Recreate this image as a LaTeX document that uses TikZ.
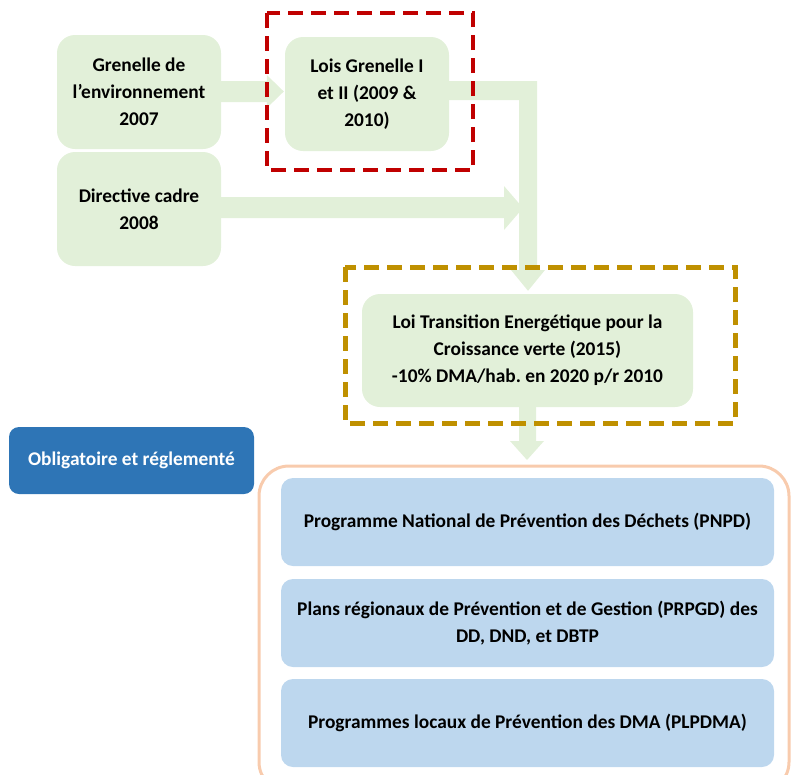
\documentclass[tikz,border=0pt]{standalone}
\usepackage{fontspec}
\setmainfont{Carlito}
\usetikzlibrary{calc}
\definecolor{greenfill}{HTML}{E2F0D9}
\definecolor{bluefill}{HTML}{BDD7EE}
\definecolor{darkblue}{HTML}{2E75B6}
\definecolor{orangeline}{HTML}{F8CBAD}
\definecolor{redline}{HTML}{C00000}
\definecolor{goldline}{HTML}{BF9000}
\pgfdeclarelayer{bg}
\pgfsetlayers{bg,main}
\frenchspacing
\begin{document}
\begin{tikzpicture}[x=1pt,y=1pt,
  txt/.style={inner sep=0pt, align=center, font=\fontsize{19.4}{27}\selectfont\bfseries},
  gbox/.style={txt, fill=greenfill, rounded corners=18pt, minimum width=164pt, minimum height=114pt},
  bbox/.style={txt, fill=bluefill, rounded corners=12pt, minimum width=493pt, minimum height=88pt},
  arrowfill/.style={fill=greenfill},
  dashframe/.style={line width=4.5pt, dash pattern=on 15pt off 8pt},
]
\useasboundingbox (0,0) rectangle (792,-774);
\clip (0,0) rectangle (792,-774);

% nodes
\node[gbox] (gren) at (139,-92) {Grenelle de\\l’environnement\\2007};
\node[gbox] (dir) at (139,-209) {Directive cadre\\2008};
\node[gbox] (lois) at (367,-94) {Lois Grenelle I\\et II (2009 \&\\2010)};
\node[txt, fill=greenfill, rounded corners=18pt, minimum width=331pt, minimum height=113pt] (loi) at (527.5,-350.5)
  {Loi Transition Energétique pour la\\Croissance verte (2015)\\-10\% DMA/hab. en 2020 p/r 2010};
\node[txt, fill=darkblue, text=white, rounded corners=10pt, minimum width=245pt, minimum height=67pt] (oblig) at (131.5,-460.5)
  {Obligatoire et réglementé};
\node[bbox] (p1) at (527.5,-522) {Programme National de Prévention des Déchets (PNPD)};
\node[bbox] (p2) at (527.5,-623) {Plans régionaux de Prévention et de Gestion (PRPGD) des\\DD, DND, et DBTP};
\node[bbox] (p3) at (527.5,-723) {Programmes locaux de Prévention des DMA (PLPDMA)};

% block arrows behind the boxes
\begin{pgfonlayer}{bg}
\fill[arrowfill] let \p1=(gren.east), \p2=(lois.west) in
  (\x1,-81) -- (\x2-18,-81) -- (\x2-18,-75) -- (\x2-1,-91.5) -- (\x2-18,-108) -- (\x2-18,-102) -- (\x1,-102) -- cycle;
\fill[arrowfill] let \p1=(lois.east), \p2=(loi.north) in
  (\x1,-81) -- (537,-81) -- (537,-270) -- (545,-270) -- (528,\y2+3) -- (511,-270) -- (519,-270) -- (519,-100) -- (\x1,-100) -- cycle;
\fill[arrowfill] let \p1=(dir.east) in
  (\x1,-197) -- (504,-197) -- (504,-186) -- (523,-208) -- (504,-230) -- (504,-218) -- (\x1,-218) -- cycle;
\fill[arrowfill] let \p1=(loi.south) in
  (519,\y1) -- (536,\y1) -- (536,-441) -- (544,-441) -- (527,-460) -- (510,-441) -- (519,-441) -- cycle;
\end{pgfonlayer}

% frames
\draw[dashframe, redline] (267,-13) rectangle (473,-170);
\draw[dashframe, goldline, line width=5pt] (345,-267) rectangle (735,-423);
\draw[orangeline, line width=3pt, rounded corners=30pt] (259,-466) rectangle (789,-792);
\end{tikzpicture}
\end{document}
